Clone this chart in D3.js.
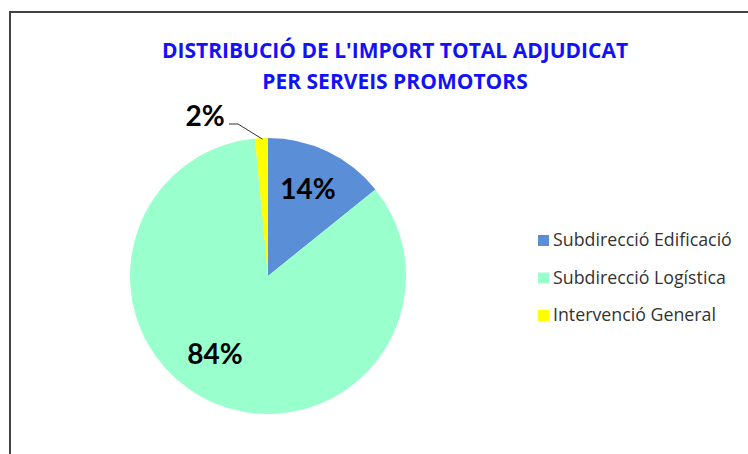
<!DOCTYPE html>
<html>
<head>
<meta charset="utf-8">
<script src="https://cdn.jsdelivr.net/npm/d3@7"></script>
<style>
  body { margin: 0; background: #fff; }
</style>
</head>
<body>
<div id="figure"></div>
<script>
// chart values
var categories = ["Subdirecció Edificació", "Subdirecció Logística", "Intervenció General"];
var shares = [14.2, 84.3, 1.5];
var colors = ["#5A8ED6", "#99FFCC", "#FFFF00"];
var titleLines = ["DISTRIBUCIÓ DE L'IMPORT TOTAL ADJUDICAT", "PER SERVEIS PROMOTORS"];

var W = 748, H = 454;
var cx = 268, cy = 276, radius = 138;

var svg = d3.select("#figure")
  .append("svg")
  .attr("width", W)
  .attr("height", H);

// chart border (runs off right and bottom edges)
svg.append("rect")
  .attr("x", 10).attr("y", 12)
  .attr("width", W + 10).attr("height", H + 10)
  .attr("fill", "#fff")
  .attr("stroke", "#444")
  .attr("stroke-width", 2);

// title
svg.append("g")
  .selectAll("text")
  .data(titleLines)
  .join("text")
  .attr("x", 395)
  .attr("y", (d, i) => 58 + i * 31)
  .attr("text-anchor", "middle")
  .attr("font-family", "'Open Sans', sans-serif")
  .attr("font-weight", "bold")
  .attr("font-size", 21)
  .attr("fill", "#1212F8")
  .text(d => d);

var data = categories.map((c, i) => ({name: c, value: shares[i], color: colors[i]}));

var pie = d3.pie().sort(null).value(d => d.value);
var arcs = pie(data);
var arc = d3.arc().innerRadius(0).outerRadius(radius);

var g = svg.append("g").attr("transform", `translate(${cx},${cy})`);

g.selectAll("path")
  .data(arcs)
  .join("path")
  .attr("d", arc)
  .attr("fill", d => d.data.color);

// percentage labels (offsets from the pie centre, as placed in the original)
var labelPos = [[40, -77], [-53, 88], [-63, -150]];

g.selectAll("text.pct")
  .data(arcs)
  .join("text")
  .attr("class", "pct")
  .attr("x", (d, i) => labelPos[i][0])
  .attr("y", (d, i) => labelPos[i][1])
  .attr("text-anchor", "middle")
  .attr("font-family", "Lato, 'Open Sans', sans-serif")
  .attr("font-weight", "bold")
  .attr("font-size", 28)
  .attr("fill", "#000")
  .text(d => Math.round(d.data.value) + "%");

// leader line for the small slice
var small = arcs[2];
var edge = d3.arc().innerRadius(radius).outerRadius(radius).centroid(small);
g.append("polyline")
  .attr("points", [[-39, -152], [-30, -152], [edge[0] + 1, edge[1] + 1]].map(p => p.join(",")).join(" "))
  .attr("fill", "none")
  .attr("stroke", "#333")
  .attr("stroke-width", 1);

// legend
var legend = svg.append("g").attr("transform", "translate(538,0)");
var rows = legend.selectAll("g")
  .data(data)
  .join("g")
  .attr("transform", (d, i) => `translate(0,${240 + i * 37.5})`);

rows.append("rect")
  .attr("x", 0).attr("y", -5)
  .attr("width", 11).attr("height", 11)
  .attr("fill", d => d.color);

rows.append("text")
  .attr("x", 15)
  .attr("y", 6)
  .attr("font-family", "'Open Sans', sans-serif")
  .attr("font-size", 17.8)
  .attr("fill", "#333")
  .text(d => d.name);
</script>
</body>
</html>
